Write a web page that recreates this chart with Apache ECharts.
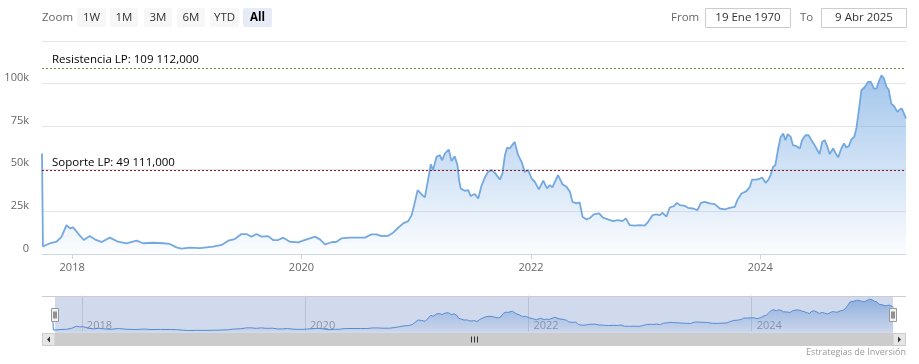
<!DOCTYPE html>
<html><head><meta charset="utf-8">
<script src="https://cdn.jsdelivr.net/npm/echarts@6/dist/echarts.min.js"></script>
<style>html,body{margin:0;padding:0;background:#fff}#c{width:919px;height:364px}</style>
</head><body><div id="c"></div>
<script>
const dates = ['2017-09-27','2017-09-30','2017-10-22','2017-11-12','2017-11-28','2017-12-14','2017-12-25','2018-01-04','2018-01-20','2018-02-07','2018-02-26','2018-03-14','2018-04-05','2018-05-01','2018-05-27','2018-06-23','2018-07-25','2018-08-15','2018-09-16','2018-10-18','2018-11-08','2018-11-29','2018-12-15','2019-01-11','2019-02-12','2019-03-26','2019-04-22','2019-05-13','2019-06-03','2019-06-24','2019-07-10','2019-07-26','2019-08-11','2019-08-27','2019-09-17','2019-10-03','2019-10-19','2019-11-04','2019-11-25','2019-12-22','2020-01-06','2020-01-28','2020-02-13','2020-02-29','2020-03-16','2020-04-06','2020-04-22','2020-05-08','2020-06-03','2020-06-30','2020-07-21','2020-08-11','2020-08-27','2020-09-12','2020-10-03','2020-10-19','2020-11-04','2020-11-20','2020-12-06','2020-12-17','2020-12-25','2021-01-05','2021-01-17','2021-01-28','2021-02-07','2021-02-16','2021-02-23','2021-03-06','2021-03-17','2021-03-24','2021-04-02','2021-04-14','2021-04-23','2021-05-03','2021-05-12','2021-05-17','2021-05-22','2021-06-04','2021-06-15','2021-06-23','2021-07-06','2021-07-17','2021-07-27','2021-08-07','2021-08-17','2021-08-28','2021-09-08','2021-09-24','2021-10-02','2021-10-10','2021-10-17','2021-10-25','2021-11-10','2021-11-21','2021-12-02','2021-12-12','2021-12-23','2022-01-03','2022-01-13','2022-01-26','2022-02-09','2022-02-21','2022-03-02','2022-03-10','2022-03-28','2022-04-11','2022-04-24','2022-05-05','2022-05-13','2022-05-26','2022-06-05','2022-06-14','2022-06-27','2022-07-09','2022-07-20','2022-08-06','2022-08-18','2022-09-03','2022-09-19','2022-10-05','2022-10-19','2022-10-30','2022-11-11','2022-11-27','2022-12-13','2022-12-29','2023-01-09','2023-01-23','2023-02-04','2023-02-15','2023-02-24','2023-03-08','2023-03-19','2023-04-01','2023-04-11','2023-04-20','2023-05-06','2023-05-16','2023-06-01','2023-06-15','2023-06-26','2023-07-08','2023-07-24','2023-08-09','2023-08-25','2023-09-10','2023-09-26','2023-10-12','2023-10-20','2023-11-02','2023-11-18','2023-11-29','2023-12-06','2023-12-20','2023-12-31','2024-01-07','2024-01-18','2024-01-26','2024-02-03','2024-02-11','2024-02-18','2024-02-27','2024-03-06','2024-03-14','2024-03-21','2024-03-28','2024-04-07','2024-04-14','2024-04-25','2024-05-06','2024-05-13','2024-05-24','2024-06-03','2024-06-12','2024-06-22','2024-07-01','2024-07-08','2024-07-16','2024-07-24','2024-08-02','2024-08-09','2024-08-20','2024-08-27','2024-09-05','2024-09-15','2024-09-24','2024-10-01','2024-10-09','2024-10-17','2024-10-26','2024-11-02','2024-11-10','2024-11-18','2024-11-29','2024-12-09','2024-12-18','2024-12-28','2025-01-05','2025-01-12','2025-01-21','2025-01-29','2025-02-06','2025-02-13','2025-02-21','2025-03-02','2025-03-13','2025-03-20','2025-03-27','2025-04-05','2025-04-09'];
const prices = [59000,4400,6300,7200,10000,17000,15000,15600,12000,8200,10500,8600,7000,9600,7200,6300,7800,6300,6600,6300,5900,3900,3100,3700,3500,4300,5300,7800,8800,11700,11700,10100,11700,10200,10500,8200,8200,9600,7200,6800,7800,9200,10200,8600,5700,6900,7200,9200,9600,9600,9600,11500,11500,10500,10700,12500,15400,18000,19300,22800,28700,37500,35200,33200,43400,52700,49200,57000,58000,55000,59000,61300,54500,57400,52100,43400,38500,37100,37500,34000,35200,32600,39800,44900,48200,49200,47600,43700,47300,58000,62500,61900,65800,58000,54100,48200,49200,44300,42400,37900,43000,38500,40400,39100,46300,41000,39400,36500,30600,29700,30300,21900,20300,21300,23200,23800,21300,20300,19300,19900,19300,20900,17000,16600,17000,16600,18900,22800,23200,22800,24200,21900,27300,28100,30000,28700,28200,27100,26700,25800,30000,30600,29700,29300,26700,26200,27100,27700,31600,35500,36900,39400,43700,43700,44300,44900,41800,43400,46300,51200,52100,61900,68700,70700,66800,70300,68700,63900,63300,61900,66800,69700,69700,66800,63900,60900,58600,65800,66800,62900,58600,61900,59400,56700,61900,64900,62500,63300,67200,68700,73600,84400,96100,98000,101000,101000,97100,97100,101000,104900,102900,98000,96500,88300,86700,83400,84800,85400,81400,79500];
const xTickDates = ['2018-01-01','2020-01-01','2022-01-01','2024-01-01'];
const yTicks = [0,25000,50000,75000,100000,125000];
const levelNames = ['Resistencia LP','Soporte LP'];
const levelValues = [109112, 49111];
const levelTexts = ['109 112,000','49 111,000'];
const rangeButtons = ['1W','1M','3M','6M','YTD','All'];
const zoomLabel = 'Zoom';
const fromLabel = 'From', toLabel = 'To';
const fromText = '19 Ene 1970', toText = '9 Abr 2025';
const creditText = 'Estrategias de Inversión';

// styles / layout (kept separate from data)
const FONT = '"Open Sans", "DejaVu Sans", sans-serif';
const levelColors = ['#6b8f3e', '#8b1a1a'];
const buttonLayout = [[77,29],[110,28],[144,28],[177,28],[210,29],[243,29]];
const selectedButton = 5;

function toTs(s){ const p = s.split('-').map(Number); return Date.UTC(p[0], p[1]-1, p[2]); }
function yearOf(v){ return String(new Date(v + 86400000).getUTCFullYear()); }
const seriesData = dates.map((d,i)=>[toTs(d), prices[i]]);
const tickTs = xTickDates.map(toTs);
const xMin = toTs(dates[0]), xMax = toTs(dates[dates.length-1]);

const chart = echarts.init(document.getElementById('c'), null, {renderer:'canvas'});

const graphics = [];
graphics.push({type:'text', x:42, y:17.5, z:100, style:{text:zoomLabel, fill:'#666', font:'11.5px '+FONT, textVerticalAlign:'middle'}});
rangeButtons.forEach((b,i)=>{
  const [bx,bw] = buttonLayout[i];
  const sel = i===selectedButton;
  graphics.push({type:'rect', z:100, shape:{x:bx, y:8, width:bw, height:19, r:2}, style:{fill: sel ? '#e6ebf5' : '#f7f7f7'}});
  graphics.push({type:'text', z:101, x:bx+bw/2, y:17.5, style:{text:b, fill: sel ? '#000' : '#333', font:(sel?'bold ':'')+'11.5px '+FONT, textAlign:'center', textVerticalAlign:'middle'}});
});
graphics.push({type:'text', x:671, y:17.5, z:100, style:{text:fromLabel, fill:'#666', font:'11.5px '+FONT, textVerticalAlign:'middle'}});
graphics.push({type:'rect', z:100, shape:{x:705.5, y:8.5, width:85, height:19}, style:{fill:'#fff', stroke:'#cccccc', lineWidth:1}});
graphics.push({type:'text', z:101, x:748, y:17.5, style:{text:fromText, fill:'#333', font:'11.5px '+FONT, textAlign:'center', textVerticalAlign:'middle'}});
graphics.push({type:'text', x:800, y:17.5, z:100, style:{text:toLabel, fill:'#666', font:'11.5px '+FONT, textVerticalAlign:'middle'}});
graphics.push({type:'rect', z:100, shape:{x:821.5, y:8.5, width:85, height:19}, style:{fill:'#fff', stroke:'#cccccc', lineWidth:1}});
graphics.push({type:'text', z:101, x:864, y:17.5, style:{text:toText, fill:'#333', font:'11.5px '+FONT, textAlign:'center', textVerticalAlign:'middle'}});

graphics.push({type:'line', z:100, shape:{x1:42, y1:296.5, x2:906, y2:296.5}, style:{stroke:'#cccccc', lineWidth:1}});
graphics.push({type:'rect', z:100, shape:{x:55, y:297, width:838, height:36}, style:{fill:'rgba(102,133,194,0.3)'}});
[51.5, 889.5].forEach(hx=>{
  graphics.push({type:'rect', z:102, shape:{x:hx, y:308.5, width:7, height:13}, style:{fill:'#f2f2f2', stroke:'#999', lineWidth:1}});
  graphics.push({type:'line', z:103, shape:{x1:hx+2.5, y1:311.5, x2:hx+2.5, y2:318.5}, style:{stroke:'#333', lineWidth:1}});
  graphics.push({type:'line', z:103, shape:{x1:hx+4.5, y1:311.5, x2:hx+4.5, y2:318.5}, style:{stroke:'#333', lineWidth:1}});
});
graphics.push({type:'rect', z:100, shape:{x:42, y:333, width:864, height:13}, style:{fill:'#f2f2f2'}});
graphics.push({type:'rect', z:101, shape:{x:55, y:333, width:838, height:13}, style:{fill:'#cccccc'}});
graphics.push({type:'rect', z:101, shape:{x:42.5, y:333.5, width:12.5, height:12}, style:{fill:'#e6e6e6', stroke:'#cccccc', lineWidth:1}});
graphics.push({type:'rect', z:101, shape:{x:893, y:333.5, width:12.5, height:12}, style:{fill:'#e6e6e6', stroke:'#cccccc', lineWidth:1}});
graphics.push({type:'polygon', z:102, shape:{points:[[50,336.5],[50,342.5],[47,339.5]]}, style:{fill:'#333'}});
graphics.push({type:'polygon', z:102, shape:{points:[[898,336.5],[898,342.5],[901,339.5]]}, style:{fill:'#333'}});
[471.5, 474.5, 477.5].forEach(gx=>{
  graphics.push({type:'line', z:102, shape:{x1:gx, y1:336.5, x2:gx, y2:342.5}, style:{stroke:'#333', lineWidth:1}});
});
graphics.push({type:'text', z:100, x:906, y:352, style:{text:creditText, fill:'#999', font:'9px '+FONT, textAlign:'right', textVerticalAlign:'middle'}});

const areaGrad = new echarts.graphic.LinearGradient(0,0,0,1,[
  {offset:0, color:'rgba(110,165,225,0.9)'},
  {offset:1, color:'rgba(110,165,225,0.04)'}
]);
const navGrad = new echarts.graphic.LinearGradient(0,0,0,1,[
  {offset:0, color:'rgba(100,155,220,0.85)'},
  {offset:1, color:'rgba(100,155,220,0.1)'}
]);

chart.setOption({
  animation:false,
  textStyle:{fontFamily:FONT},
  grid:[
    {left:42, right:13, top:41, bottom:110},
    {left:52.5, right:25.5, top:297, bottom:31}
  ],
  xAxis:[
    {type:'value', gridIndex:0, min:xMin, max:xMax, scale:true,
     axisLine:{lineStyle:{color:'#ccd6eb'}},
     axisTick:{show:true, customValues:tickTs, length:5, lineStyle:{color:'#ccd6eb'}},
     axisLabel:{customValues:tickTs, margin:8, color:'#666', fontSize:11, fontFamily:FONT, formatter:yearOf},
     splitLine:{show:false}},
    {type:'value', gridIndex:1, min:xMin, max:xMax, scale:true,
     axisLine:{show:false},
     axisTick:{show:true, inside:true, customValues:tickTs, length:36, lineStyle:{color:'#dddddd'}},
     axisLabel:{inside:true, customValues:tickTs, margin:2, align:'left', padding:[0,0,0,5], color:'#999', fontSize:11, fontFamily:FONT, formatter:yearOf},
     splitLine:{show:false}}
  ],
  yAxis:[
    {type:'value', gridIndex:0, min:yTicks[0], max:yTicks[yTicks.length-1], interval:yTicks[1]-yTicks[0],
     axisLine:{show:false}, axisTick:{show:false},
     axisLabel:{showMaxLabel:false, margin:13, verticalAlign:'bottom', color:'#666', fontSize:11, fontFamily:FONT,
       formatter:(v)=> v===0 ? '0' : (v/1000)+'k'},
     splitLine:{lineStyle:{color:'#e6e6e6'}}},
    {type:'value', gridIndex:1, min:-5000, max:112000, show:false, splitLine:{show:false}}
  ],
  series:[
    {type:'line', xAxisIndex:0, yAxisIndex:0, data:seriesData, showSymbol:false, symbol:'none',
     lineStyle:{color:'#73a9e0', width:1.8}, itemStyle:{color:'#73a9e0'},
     areaStyle:{color:areaGrad},
     markLine:{silent:true, symbol:['none','none'],
       data: levelValues.map((v,i)=>({yAxis:v,
         lineStyle:{color:levelColors[i], type:[2,2], width:1},
         label:{show:true, position:'insideStartTop', distance:[10,2], color:'#000', fontSize:11.5, fontFamily:FONT,
           formatter: levelNames[i]+': '+levelTexts[i]}}))}
    },
    {type:'line', xAxisIndex:1, yAxisIndex:1, data:seriesData, showSymbol:false, symbol:'none',
     lineStyle:{color:'#4f8fd8', width:1}, itemStyle:{color:'#4f8fd8'},
     areaStyle:{color:navGrad}}
  ],
  graphic: graphics
});
</script></body></html>
